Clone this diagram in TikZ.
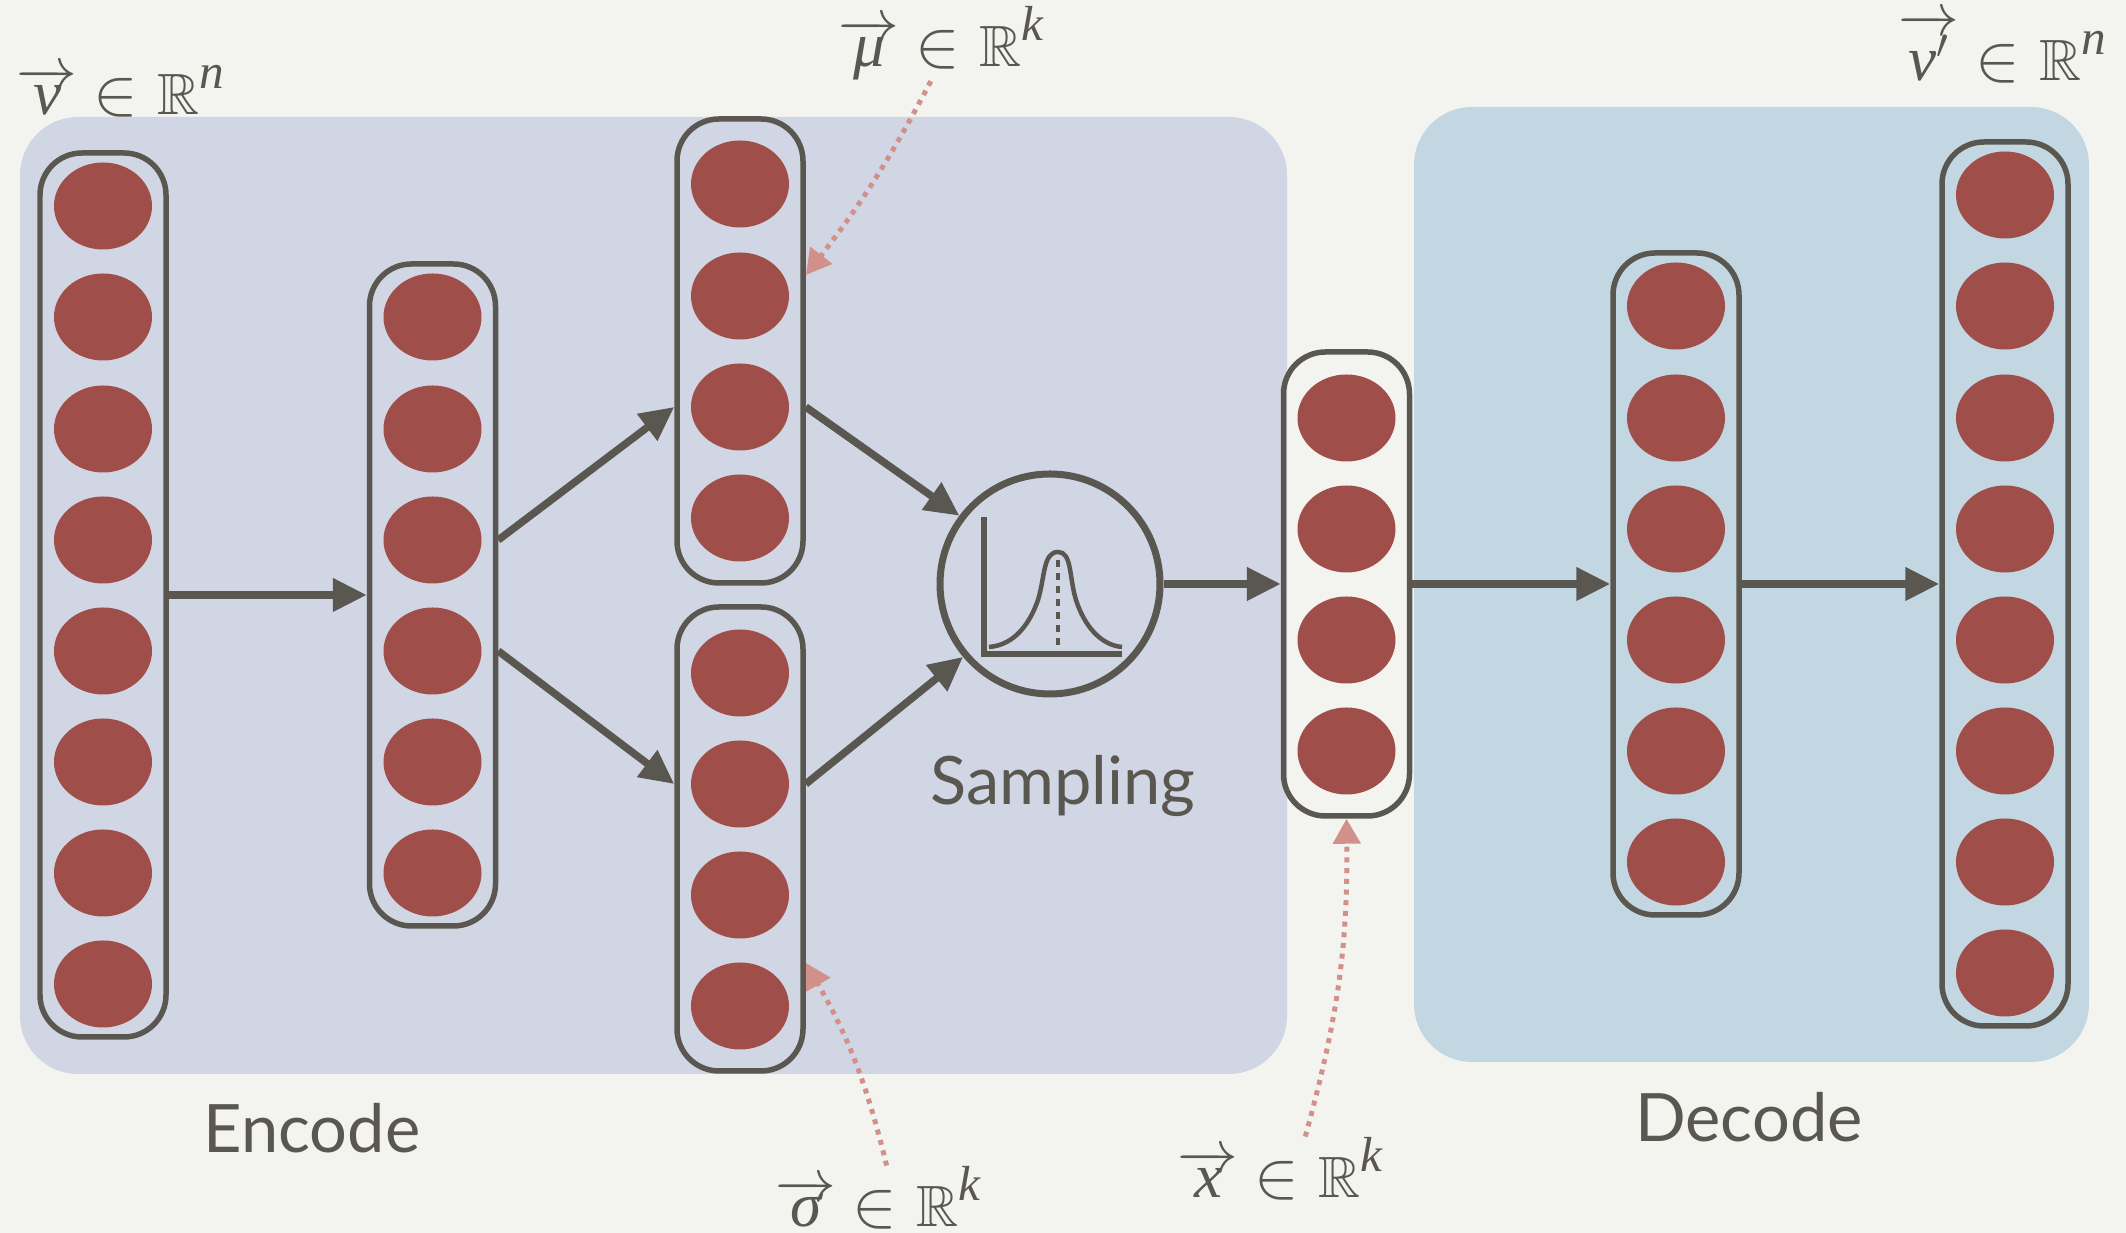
\documentclass[tikz,border=0pt]{standalone}
\usepackage{amsmath,amssymb}
\usepackage{fontspec}
\setmainfont{Liberation Serif}
\setsansfont{Lato}
\usepackage{tikz}
\usetikzlibrary{arrows.meta,shapes.geometric,positioning}
\definecolor{ink}{HTML}{5A5750}
\definecolor{paper}{HTML}{F3F4F0}
\definecolor{encblue}{HTML}{D1D6E5}
\definecolor{decblue}{HTML}{C3D7E3}
\definecolor{brick}{HTML}{A04E49}
\definecolor{salmon}{HTML}{D1918A}
\newcommand{\veclabel}[3][0.4em]{$\overrightarrow{\makebox[0.8em]{\raisebox{0pt}[#1]{\itshape #2}}}$\hspace{0.26em}\scalebox{1.1}{$\in$}\hspace{0.3em}\scalebox{0.92}{$\mathbb{R}$}\raisebox{0.42em}{\fontsize{14}{14}\selectfont\itshape #3}}
\tikzset{
  panel/.style={rounded corners=0.58cm,inner sep=0pt,outer sep=0pt},
  unit/.style={ellipse,fill=brick,minimum width=0.98cm,minimum height=0.87cm,inner sep=0pt,outer sep=0pt},
  layerbox/.style={rectangle,draw=ink,line width=0.055cm,rounded corners=0.42cm,minimum width=1.26cm},
  flow/.style={draw=ink,line width=0.075cm,-{Triangle[length=0.34cm,width=0.32cm]}},
  hint/.style={draw=salmon,line width=0.05cm,dash pattern=on 0.05cm off 0.057cm,-{Triangle[length=0.25cm,width=0.27cm,color=salmon]}},
  caption/.style={font=\sffamily\fontsize{19}{23}\selectfont,text=ink,inner sep=0pt},
  veclab/.style={font=\fontsize{18}{22}\selectfont,text=ink,inner sep=0pt,anchor=base west}
}
\begin{document}
\begin{tikzpicture}
   \useasboundingbox (0,0) rectangle (21.26,12.33);
   \fill [paper] (0,0) rectangle (21.26,12.33);
   \node (enc) [panel,fill=encblue,minimum width=12.67cm,minimum height=9.57cm] at (6.535,6.375) {};
   \node (dec) [panel,fill=decblue,minimum width=6.75cm,minimum height=9.55cm] at (17.515,6.485) {};
   \begin{scope}[every node/.style={unit}]
    \node (v1) at (1.03,10.27) {};
    \node (v2) at (1.03,9.16) {};
    \node (v3) at (1.03,8.04) {};
    \node (v4) at (1.03,6.93) {};
    \node (v5) at (1.03,5.82) {};
    \node (v6) at (1.03,4.71) {};
    \node (v7) at (1.03,3.60) {};
    \node (v8) at (1.03,2.49) {};
    \node (h1) at (4.325,9.16) {};
    \node (h2) at (4.325,8.04) {};
    \node (h3) at (4.325,6.93) {};
    \node (h4) at (4.325,5.82) {};
    \node (h5) at (4.325,4.71) {};
    \node (h6) at (4.325,3.60) {};
    \node (m1) at (7.40,10.49) {};
    \node (m2) at (7.40,9.37) {};
    \node (m3) at (7.40,8.26) {};
    \node (m4) at (7.40,7.15) {};
    \node (s1) at (7.40,5.60) {};
    \node (s2) at (7.40,4.49) {};
    \node (s3) at (7.40,3.38) {};
    \node (s4) at (7.40,2.27) {};
    \node (x1) at (13.465,8.15) {};
    \node (x2) at (13.465,7.04) {};
    \node (x3) at (13.465,5.93) {};
    \node (x4) at (13.465,4.82) {};
    \node (d1) at (16.76,9.27) {};
    \node (d2) at (16.76,8.15) {};
    \node (d3) at (16.76,7.04) {};
    \node (d4) at (16.76,5.93) {};
    \node (d5) at (16.76,4.82) {};
    \node (d6) at (16.76,3.71) {};
    \node (o1) at (20.05,10.38) {};
    \node (o2) at (20.05,9.27) {};
    \node (o3) at (20.05,8.15) {};
    \node (o4) at (20.05,7.04) {};
    \node (o5) at (20.05,5.93) {};
    \node (o6) at (20.05,4.82) {};
    \node (o7) at (20.05,3.71) {};
    \node (o8) at (20.05,2.60) {};
   \end{scope}
   \begin{scope}[every node/.style={layerbox}]
    \node (bv) [minimum height=8.84cm] at (1.03,6.38) {};
    \node (bh) [minimum height=6.62cm] at (4.325,6.38) {};
    \node (bm) [minimum height=4.64cm] at (7.40,8.82) {};
    \node (bs) [minimum height=4.64cm] at (7.40,3.94) {};
    \node (bx) [minimum height=4.64cm] at (13.465,6.49) {};
    \node (bd) [minimum height=6.62cm] at (16.76,6.49) {};
    \node (bo) [minimum height=8.84cm] at (20.05,6.49) {};
   \end{scope}
   \node (samp) [circle,draw=ink,line width=0.07cm,minimum size=2.2cm,inner sep=0pt] at (10.50,6.49) {};
   \draw [ink,line width=0.065cm] (9.84,7.16) -- (9.84,5.79) -- (11.22,5.79);
   \draw [ink,line width=0.045cm] (9.89,5.86) .. controls (10.15,5.88) and (10.30,6.10) .. (10.38,6.33) .. controls (10.45,6.56) and (10.43,6.81) .. (10.58,6.81) .. controls (10.72,6.81) and (10.69,6.56) .. (10.76,6.33) .. controls (10.84,6.08) and (11.00,5.88) .. (11.22,5.86);
   \draw [ink,line width=0.04cm,dash pattern=on 0.07cm off 0.06cm] (10.58,6.73) -- (10.58,5.81);
   \node (enclab) [caption] at (3.12,1.05) {Encode};
   \node (declab) [caption] at (17.49,1.16) {Decode};
   \node (samplab) [caption] at (10.63,4.47) {Sampling};
   \node (vlab) [veclab] at (0.16,11.18) {\veclabel{v}{n}};
   \node (mulab) [veclab] at (8.38,11.66) {\veclabel{μ}{k}};
   \node (siglab) [veclab] at (7.75,0.06) {\veclabel{σ}{k}};
   \node (xlab) [veclab] at (11.77,0.35) {\veclabel{x}{k}};
   \node (volab) [veclab] at (18.98,11.52) {\veclabel[0.72em]{v$'$}{n}};
   \coordinate (mutip) at (8.06,9.58);
   \coordinate (sigtip) at (8.06,2.70);
   \draw [flow] (bv.east) -- (bh.west);
   \draw [flow] (bh.east |- h3) -- (bm.west |- m3);
   \draw [flow] (bh.east |- h4) -- (bs.west |- s2);
   \draw [flow] (bm.east |- m3) -- (samp.143);
   \draw [flow] (bs.east |- s2) -- (samp.220);
   \draw [flow] (samp.east) -- (bx.west);
   \draw [flow] (bx.east) -- (bd.west);
   \draw [flow] (bd.east) -- (bo.west);
   \draw [hint] (mulab.255) to [bend left=5] (mutip);
   \draw [hint] (siglab.75) to [bend right=8] (sigtip);
   \draw [hint] (xlab.52) to [bend right=8] (bx.south);
\end{tikzpicture}
\end{document}
